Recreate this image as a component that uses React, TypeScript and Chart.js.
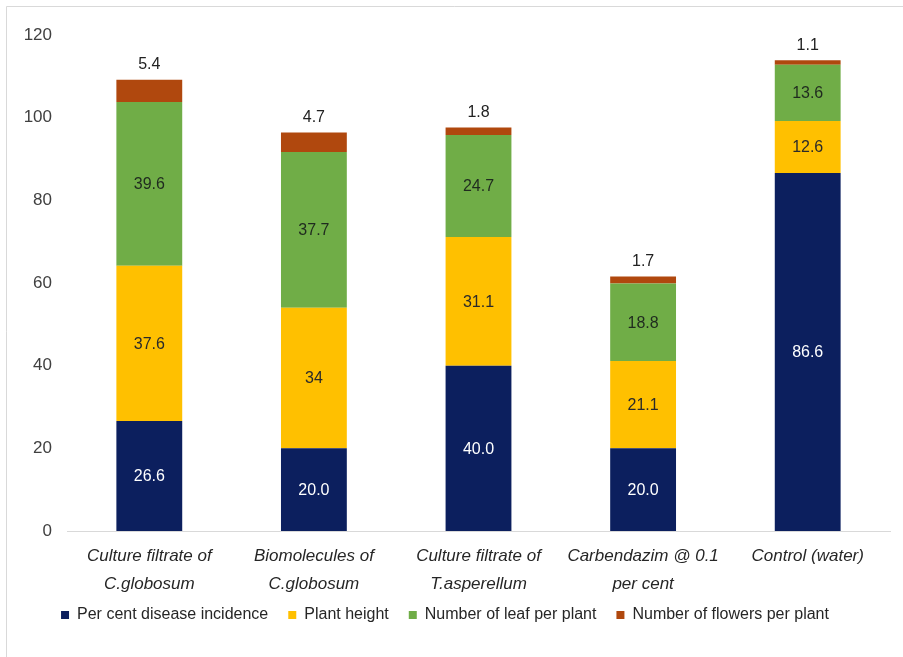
import React, { useEffect, useRef } from "react";
import { Chart, registerables } from "chart.js";

Chart.register(...registerables);

const categories: string[][] = [
  ["Culture filtrate of", "C.globosum"],
  ["Biomolecules of", "C.globosum"],
  ["Culture filtrate of", "T.asperellum"],
  ["Carbendazim @ 0.1", "per cent"],
  ["Control (water)"],
];

const seriesNames = [
  "Per cent disease incidence",
  "Plant height",
  "Number of leaf per plant",
  "Number of flowers per plant",
];

const diseaseIncidence = [26.6, 20.0, 40.0, 20.0, 86.6];
const plantHeight = [37.6, 34, 31.1, 21.1, 12.6];
const leafPerPlant = [39.6, 37.7, 24.7, 18.8, 13.6];
const flowersPerPlant = [5.4, 4.7, 1.8, 1.7, 1.1];

const diseaseLabels = ["26.6", "20.0", "40.0", "20.0", "86.6"];
const heightLabels = ["37.6", "34", "31.1", "21.1", "12.6"];
const leafLabels = ["39.6", "37.7", "24.7", "18.8", "13.6"];
const flowerLabels = ["5.4", "4.7", "1.8", "1.7", "1.1"];

const yTicks = [0, 20, 40, 60, 80, 100, 120];

const colors = ["#0C1F5E", "#FFC000", "#70AD47", "#B0480E"];
const labelSets = [diseaseLabels, heightLabels, leafLabels, flowerLabels];
const labelColors = ["#FFFFFF", "#2a2a2a", "#1f2a1f", "#222222"];

const valueLabelPlugin = {
  id: "valueLabels",
  afterDatasetsDraw(chart: any) {
    const ctx = chart.ctx;
    ctx.save();
    ctx.font = "16px 'Liberation Sans', Arial, sans-serif";
    ctx.textAlign = "center";
    chart.data.datasets.forEach((ds: any, di: number) => {
      const meta = chart.getDatasetMeta(di);
      meta.data.forEach((bar: any, i: number) => {
        const text = labelSets[di][i];
        ctx.fillStyle = labelColors[di];
        if (di === 3) {
          ctx.textBaseline = "bottom";
          ctx.fillText(text, bar.x, bar.y - 7);
        } else {
          ctx.textBaseline = "middle";
          ctx.fillText(text, bar.x, (bar.y + bar.base) / 2 + 1);
        }
      });
    });
    ctx.restore();
  },
};

const framePlugin = {
  id: "frame",
  beforeDraw(chart: any) {
    const ctx = chart.ctx;
    ctx.save();
    ctx.fillStyle = "#ffffff";
    ctx.fillRect(0, 0, chart.width, chart.height);
    ctx.strokeStyle = "#d9d9d9";
    ctx.lineWidth = 1;
    ctx.beginPath();
    ctx.moveTo(6.5, chart.height);
    ctx.lineTo(6.5, 6.5);
    ctx.lineTo(chart.width, 6.5);
    ctx.stroke();
    ctx.restore();
  },
};

export default function App() {
  const ref = useRef<HTMLCanvasElement>(null);
  useEffect(() => {
    if (!ref.current) return;
    const seriesData = [diseaseIncidence, plantHeight, leafPerPlant, flowersPerPlant];
    const chart = new Chart(ref.current, {
      type: "bar",
      data: {
        labels: categories,
        datasets: seriesData.map((d, i) => ({
          label: seriesNames[i],
          data: d,
          backgroundColor: colors[i],
          borderWidth: 0,
          categoryPercentage: 1,
          barPercentage: 0.4,
        })),
      },
      options: {
        animation: false,
        responsive: false,
        maintainAspectRatio: false,
        layout: { padding: { left: 0, right: 13, top: 35, bottom: 24 } },
        plugins: {
          legend: {
            position: "bottom",
            labels: {
              boxWidth: 8,
              boxHeight: 8,
              padding: 20,
              color: "#262626",
              font: { size: 16, family: "'Liberation Sans', Arial, sans-serif" },
            },
          },
          tooltip: { enabled: false },
        },
        scales: {
          x: {
            stacked: true,
            grid: { display: false, drawTicks: false },
            border: { display: true, color: "#d9d9d9" },
            ticks: {
              maxRotation: 0,
              autoSkip: false,
              padding: 12,
              color: "#262626",
              font: {
                size: 17,
                style: "italic",
                family: "'Liberation Sans', Arial, sans-serif",
                lineHeight: 1.6,
              },
            },
            afterFit(scale: any) {
              scale.height = 56;
              scale._computeLabelArea = () => undefined;
            },
          },
          y: {
            stacked: true,
            min: 0,
            max: 120,
            afterBuildTicks(scale: any) {
              scale.ticks = yTicks.map((v) => ({ value: v }));
            },
            grid: { display: false, drawTicks: false },
            border: { display: false },
            ticks: {
              padding: 15,
              color: "#404040",
              font: { size: 17, family: "'Liberation Sans', Arial, sans-serif" },
            },
            afterFit(scale: any) {
              scale.width = 67;
            },
          },
        },
      },
      plugins: [framePlugin, valueLabelPlugin],
    });
    return () => chart.destroy();
  }, []);
  return (
    <div style={{ position: "fixed", left: 0, top: 0, width: 903, height: 657 }}>
      <canvas ref={ref} width={903} height={657} style={{ width: 903, height: 657 }} />
    </div>
  );
}
